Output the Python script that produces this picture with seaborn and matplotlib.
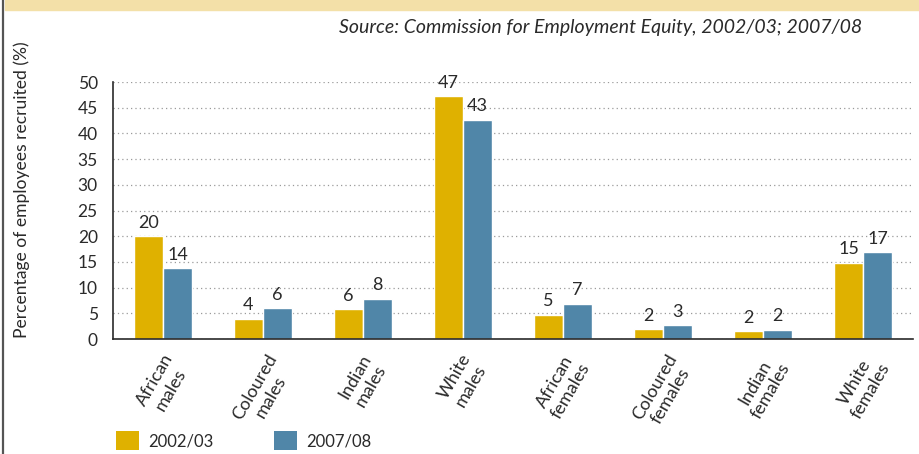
import numpy as np
import pandas as pd
import matplotlib
matplotlib.use("Agg")
import matplotlib.pyplot as plt
from matplotlib.patches import Rectangle, Patch
from matplotlib.lines import Line2D
import seaborn as sns

# Recruitment shares by population group and sex (%)
groups = ["African\nmales", "Coloured\nmales", "Indian\nmales", "White\nmales",
          "African\nfemales", "Coloured\nfemales", "Indian\nfemales", "White\nfemales"]
periods = ["2002/03", "2007/08"]
recruited_2002 = [20.0, 3.9, 5.8, 47.2, 4.7, 1.9, 1.5, 14.8]
recruited_2007 = [13.8, 6.0, 7.8, 42.6, 6.8, 2.7, 1.8, 16.9]
y_ticks = [0, 5, 10, 15, 20, 25, 30, 35, 40, 45, 50]
colors = ["#DFB100", "#5086A8"]

df = pd.DataFrame({
    "group": groups * 2,
    "period": [periods[0]] * len(groups) + [periods[1]] * len(groups),
    "value": recruited_2002 + recruited_2007,
})

sns.set_style("white")
plt.rcParams["font.family"] = ["Lato", "DejaVu Sans"]
ink = "#2a2a2a"

W, H = 920, 454
fig = plt.figure(figsize=(W / 100, H / 100), dpi=100)
ax = fig.add_axes([113 / W, 1 - 339 / H, 800 / W, (339 - 82) / H])

sns.barplot(data=df, x="group", y="value", hue="period", hue_order=periods,
            palette=colors, width=0.58, saturation=1, ax=ax, legend=False)

for cont in ax.containers:
    ax.bar_label(cont, labels=[f"{v:.0f}" for v in cont.datavalues],
                 padding=4, fontsize=13, color=ink)

ax.set_xlim(-0.5, len(groups) - 0.5)
ax.set_ylim(0, 50)
ax.set_yticks(y_ticks)
ax.tick_params(axis="y", which="major", length=5, width=1, direction="out",
               labelsize=12.5, pad=6, colors=ink)

ax.set_xticks(range(len(groups)))
ax.set_xticklabels(groups, rotation=60, ha="center", va="top",
                   multialignment="center", linespacing=1.2,
                   fontsize=13, color=ink)
ax.set_xticks(np.arange(-0.5, len(groups), 1), minor=True)
ax.tick_params(axis="x", which="major", length=0, pad=9)
ax.tick_params(axis="x", which="minor", length=6, width=1, direction="out",
               color=ink)

ax.set_xlabel("")
ax.set_ylabel("Percentage of employees recruited (%)", fontsize=12.6, color=ink)
ax.yaxis.set_label_coords(-0.104, 0.58)

ax.yaxis.grid(True, linestyle=(0, (1, 2.5)), color="#9a9a9a", lw=0.9)
ax.xaxis.grid(False)
ax.set_axisbelow(True)
for side in ("top", "right"):
    ax.spines[side].set_visible(False)
for side in ("left", "bottom"):
    ax.spines[side].set_color(ink)
    ax.spines[side].set_linewidth(1.2)

# Page decoration: header band and left rule
fig.patches.append(Rectangle((5 / W, 1 - 9.5 / H), 1, 9.5 / H,
                             transform=fig.transFigure, color="#F3E0A8"))
fig.lines.append(Line2D([3.5 / W, 3.5 / W], [0, 1], transform=fig.transFigure,
                        color="#555555", lw=1.6))

fig.text(862 / W, 1 - 28 / H,
         "Source: Commission for Employment Equity, 2002/03; 2007/08",
         ha="right", va="center", style="italic", fontsize=14, color=ink)

handles = [Patch(facecolor=c, edgecolor="none") for c in colors]
fig.legend(handles, periods, loc="upper left",
           bbox_to_anchor=(116 / W, 1 - 431 / H), ncol=2, frameon=False,
           borderpad=0, borderaxespad=0, handlelength=1.4, handleheight=1.4,
           handletextpad=0.55, columnspacing=3.6, fontsize=12,
           labelcolor=ink)

fig.savefig("out.png", dpi=100)
